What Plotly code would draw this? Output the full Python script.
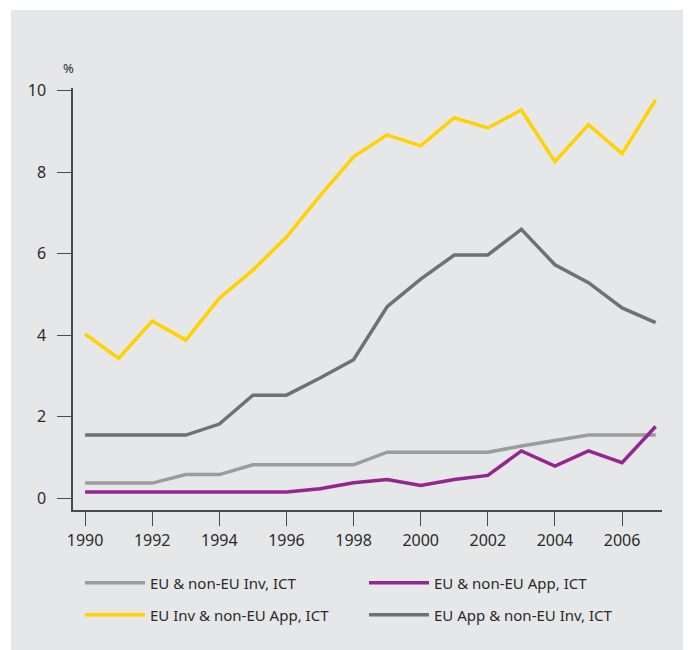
import plotly.graph_objects as go

years = list(range(1990, 2008))

eu_inv_ict = [0.37, 0.37, 0.37, 0.58, 0.58, 0.82, 0.82, 0.82, 0.82, 1.13,
              1.13, 1.13, 1.13, 1.28, 1.42, 1.55, 1.55, 1.55]
eu_app_ict = [0.15, 0.15, 0.15, 0.15, 0.15, 0.15, 0.15, 0.23, 0.38, 0.46,
              0.31, 0.46, 0.56, 1.16, 0.79, 1.16, 0.87, 1.76]
eu_inv_noneu_app = [4.03, 3.43, 4.35, 3.88, 4.91, 5.6, 6.41, 7.42, 8.38, 8.92,
                    8.65, 9.34, 9.09, 9.53, 8.26, 9.17, 8.46, 9.78]
eu_app_noneu_inv = [1.55, 1.55, 1.55, 1.55, 1.82, 2.53, 2.53, 2.95, 3.4, 4.7,
                    5.38, 5.97, 5.97, 6.6, 5.73, 5.29, 4.67, 4.31]

x_ticks = [1990, 1992, 1994, 1996, 1998, 2000, 2002, 2004, 2006]
y_ticks = [0, 2, 4, 6, 8, 10]

colors = {
    'panel': '#e6e7e9',
    'axis': '#4a4a4a',
    'text': '#2b2b2b',
    'light_grey': '#9c9c9c',
    'purple': '#93278f',
    'yellow': '#ffd200',
    'dark_grey': '#717171',
}

# область построения (в пикселях фигуры)
L, R, T, B = 65, 37, 80, 148
PW, PH = 691 - L - R, 650 - T - B

fig = go.Figure()

# порядок отрисовки: серые, жёлтая, фиолетовая сверху
fig.add_trace(go.Scatter(x=years, y=eu_inv_ict, mode='lines', name='EU & non-EU Inv, ICT',
                         line=dict(color=colors['light_grey'], width=3.5), legend='legend'))
fig.add_trace(go.Scatter(x=years, y=eu_inv_noneu_app, mode='lines', name='EU Inv & non-EU App, ICT',
                         line=dict(color=colors['yellow'], width=3.5), legend='legend2'))
fig.add_trace(go.Scatter(x=years, y=eu_app_noneu_inv, mode='lines', name='EU App & non-EU Inv, ICT',
                         line=dict(color=colors['dark_grey'], width=3.5), legend='legend2'))
fig.add_trace(go.Scatter(x=years, y=eu_app_ict, mode='lines', name='EU & non-EU App, ICT',
                         line=dict(color=colors['purple'], width=3.5), legend='legend'))

legend_style = dict(orientation='h', xanchor='left', yanchor='middle', x=7 / PW,
                    xref='paper', yref='container', entrywidth=209, itemwidth=60,
                    traceorder='normal', bgcolor='rgba(0,0,0,0)',
                    font=dict(size=15, color=colors['text']), itemclick=False)

fig.update_layout(
    width=691, height=650,
    paper_bgcolor='white',
    plot_bgcolor=colors['panel'],
    font=dict(family='Noto Sans', color=colors['text'], size=16),
    margin=dict(l=L, r=R, t=T, b=B),
    xaxis=dict(range=[1989.64, 2007.19], tickvals=x_ticks, showgrid=False, zeroline=False,
               showline=True, linecolor=colors['axis'], linewidth=1.5,
               ticks='outside', ticklen=14, tickcolor=colors['axis'], tickwidth=1.3,
               ticklabelstandoff=1),
    yaxis=dict(range=[-0.29, 10.07], tickvals=y_ticks, showgrid=False, zeroline=False,
               showline=True, linecolor=colors['axis'], linewidth=1.5,
               ticks='outside', ticklen=14, tickcolor=colors['axis'], tickwidth=1.3,
               ticklabelstandoff=8),
    legend=dict(legend_style, y=(650 - 575) / 650),
    legend2=dict(legend_style, y=(650 - 607) / 650),
    showlegend=True,
)

# серая подложка всей картинки
fig.add_shape(type='rect', xref='paper', yref='paper', layer='below',
              x0=(3 - L) / PW, x1=1 + (R + 10) / PW, y0=-(B + 10) / PH, y1=1 + (T - 2) / PH,
              fillcolor=colors['panel'], line_width=0)

fig.add_annotation(text='%', xref='paper', yref='paper', x=(60 - L) / PW, y=1 + (T - 60) / PH,
                   xanchor='center', yanchor='middle',
                   showarrow=False, font=dict(size=13, color=colors['text']))

fig.write_html("out.html")
